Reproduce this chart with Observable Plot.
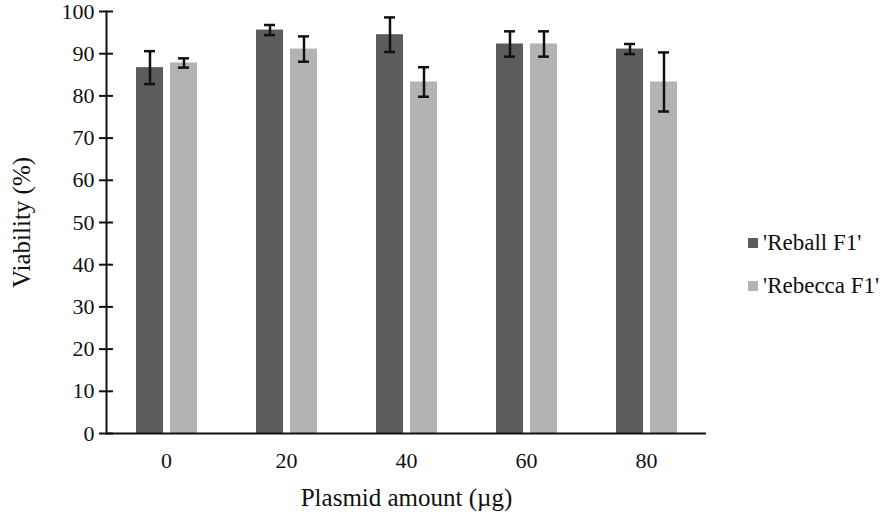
<!DOCTYPE html>
<html>
<head>
<meta charset="utf-8">
<script src="https://cdn.jsdelivr.net/npm/d3@7"></script>
<script src="https://cdn.jsdelivr.net/npm/@observablehq/plot@0.6"></script>
<style>
  html, body { margin: 0; padding: 0; background: #fff; }
  #wrap { position: relative; width: 886px; height: 516px; font-family: "Liberation Serif", serif; }
  #legend { position: absolute; left: 748px; top: 221px; font-size: 23px; color: #111; }
  #legend .row { display: flex; align-items: center; height: 43px; }
  #legend .sw { width: 10px; height: 10px; margin-right: 5px; }
</style>
</head>
<body>
<div id="wrap"></div>
<script>
const amounts = [0, 20, 40, 60, 80];
const seriesNames = ["'Reball F1'", "'Rebecca F1'"];
const reball = [86.7, 95.6, 94.5, 92.3, 91.1];
const reballErr = [3.9, 1.2, 4.1, 3.0, 1.2];
const rebecca = [87.8, 91.1, 83.3, 92.3, 83.3];
const rebeccaErr = [1.1, 3.0, 3.5, 3.0, 7.0];
const yTicks = [0, 10, 20, 30, 40, 50, 60, 70, 80, 90, 100];
const colors = ["#5c5c5c", "#b3b3b3"];

const data = [];
amounts.forEach((a, i) => {
  data.push({amount: a, series: seriesNames[0], value: reball[i], err: reballErr[i]});
  data.push({amount: a, series: seriesNames[1], value: rebecca[i], err: rebeccaErr[i]});
});

const font = '"Liberation Serif", serif';

const chart = Plot.plot({
  width: 886,
  height: 516,
  marginLeft: 104,
  marginRight: 179,
  marginTop: 11,
  marginBottom: 83,
  style: {fontFamily: font, color: "#111", background: "#fff"},
  fx: {domain: amounts, padding: 0, label: null},
  x: {domain: seriesNames, paddingInner: 0.22, paddingOuter: 0.873, axis: null},
  y: {domain: [0, 100], label: null},
  color: {domain: seriesNames, range: colors},
  marks: [
    Plot.barY(data, {fx: "amount", x: "series", y: "value", fill: "series"}),
    Plot.ruleX(data, {fx: "amount", x: "series", y1: d => d.value - d.err, y2: d => d.value + d.err, stroke: "#111", strokeWidth: 2.5}),
    Plot.tickY(data, {fx: "amount", x: "series", y: d => d.value - d.err, stroke: "#111", strokeWidth: 2.5, insetLeft: 8, insetRight: 8}),
    Plot.tickY(data, {fx: "amount", x: "series", y: d => d.value + d.err, stroke: "#111", strokeWidth: 2.5, insetLeft: 8, insetRight: 8}),
    Plot.ruleY([0], {stroke: "#111", strokeWidth: 2}),
    Plot.frame({anchor: "left", facetAnchor: "left", stroke: "#111", strokeWidth: 2}),
    Plot.axisY({ticks: yTicks, tickSize: 14, dx: 7, tickFormat: () => "", stroke: "#111", strokeWidth: 2, label: null}),
    Plot.axisY({ticks: yTicks, tickSize: 0, tickPadding: 12, fontSize: 22, fill: "#111", label: null}),
    Plot.axisY({ticks: [], tickSize: 0, fontSize: 25, fill: "#111",
      label: "Viability (%)", labelAnchor: "center", labelArrow: "none", labelOffset: 94}),
    Plot.axisFx({anchor: "bottom", tickSize: 0, tickPadding: 19, fontSize: 22, fill: "#111", label: null}),
    Plot.axisFx({anchor: "bottom", ticks: [], tickSize: 0, fontSize: 25, fill: "#111",
      label: "Plasmid amount (µg)", labelAnchor: "center", labelOffset: 72})
  ]
});

const wrap = document.getElementById("wrap");
wrap.appendChild(chart);

const legend = document.createElement("div");
legend.id = "legend";
seriesNames.forEach((s, i) => {
  const row = document.createElement("div");
  row.className = "row";
  const sw = document.createElement("div");
  sw.className = "sw";
  sw.style.background = colors[i];
  const t = document.createElement("span");
  t.textContent = s;
  row.appendChild(sw);
  row.appendChild(t);
  legend.appendChild(row);
});
wrap.appendChild(legend);
</script>
</body>
</html>
